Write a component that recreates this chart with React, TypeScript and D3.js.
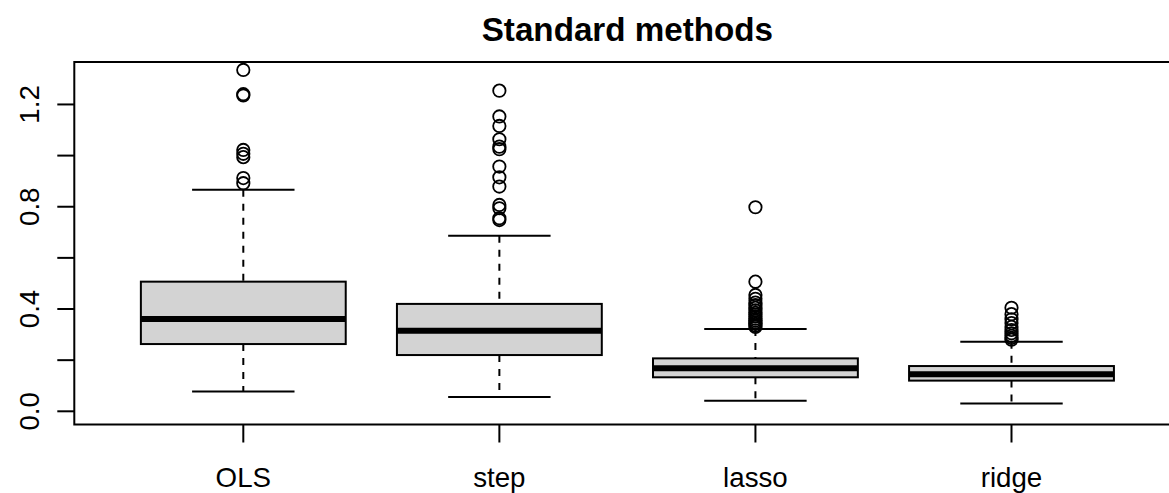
import React from 'react';
import * as d3 from 'd3';

// box statistics
const methods = ['OLS', 'step', 'lasso', 'ridge'];
const lowerWhisker = [0.077, 0.056, 0.041, 0.031];
const q1 = [0.263, 0.22, 0.133, 0.12];
const medians = [0.361, 0.315, 0.168, 0.145];
const q3 = [0.507, 0.42, 0.207, 0.177];
const upperWhisker = [0.866, 0.687, 0.322, 0.272];

const olsOutliers = [1.335, 1.24, 1.235, 1.022, 1.007, 0.994, 0.912, 0.892];
const stepOutliers = [1.254, 1.153, 1.116, 1.064, 1.035, 1.025, 0.957, 0.915, 0.879, 0.807, 0.794, 0.755, 0.748];
const lassoOutliers = [0.798, 0.507, 0.455, 0.44, 0.425, 0.415, 0.405, 0.395, 0.385, 0.378, 0.37, 0.362, 0.355, 0.348, 0.342, 0.336, 0.33];
const ridgeOutliers = [0.405, 0.38, 0.36, 0.345, 0.33, 0.318, 0.305, 0.295, 0.287, 0.28];
const outliers = [olsOutliers, stepOutliers, lassoOutliers, ridgeOutliers];

const yTicks = [0, 0.2, 0.4, 0.6, 0.8, 1.0, 1.2];
const yTickLabels = ['0.0', '', '0.4', '', '0.8', '', '1.2'];

const W = 1169;
const H = 493;
const left = 74.3;
const right = 1180.5;
const top = 62;
const bottom = 424.5;
const font = '"Liberation Sans", Arial, Helvetica, sans-serif';

const App: React.FC = () => {
  const x = d3.scaleLinear().domain([0.34, methods.length + 0.66]).range([left, right]);
  const y = d3.scaleLinear().domain([-0.0516, 1.366]).range([bottom, top]);
  const halfBox = x(0.4) - x(0);
  const halfCap = x(0.2) - x(0);

  return (
    <svg width={W} height={H} style={{ position: 'absolute', left: 0, top: 0, background: '#fff' }}>
      <text x={(left + right) / 2} y={41} textAnchor="middle" fontFamily={font} fontWeight="bold" fontSize={33.2}>
        Standard methods
      </text>

      {methods.map((m, i) => {
        const cx = x(i + 1);
        return (
          <g key={m}>
            <line x1={cx} x2={cx} y1={y(upperWhisker[i])} y2={y(q3[i])} stroke="#000" strokeWidth={2} strokeDasharray="7,7" />
            <line x1={cx} x2={cx} y1={y(q1[i])} y2={y(lowerWhisker[i])} stroke="#000" strokeWidth={2} strokeDasharray="7,7" />
            <line x1={cx - halfCap} x2={cx + halfCap} y1={y(upperWhisker[i])} y2={y(upperWhisker[i])} stroke="#000" strokeWidth={2} />
            <line x1={cx - halfCap} x2={cx + halfCap} y1={y(lowerWhisker[i])} y2={y(lowerWhisker[i])} stroke="#000" strokeWidth={2} />
            <rect x={cx - halfBox} y={y(q3[i])} width={halfBox * 2} height={y(q1[i]) - y(q3[i])} fill="#d3d3d3" stroke="#000" strokeWidth={2} />
            <line x1={cx - halfBox} x2={cx + halfBox} y1={y(medians[i])} y2={y(medians[i])} stroke="#000" strokeWidth={6} />
            {outliers[i].map((v, j) => (
              <circle key={j} cx={cx} cy={y(v)} r={6.2} fill="none" stroke="#000" strokeWidth={1.8} />
            ))}
            <line x1={cx} x2={cx} y1={bottom} y2={bottom + 18} stroke="#000" strokeWidth={2} />
            <text x={cx} y={486.7} textAnchor="middle" fontFamily={font} fontSize={27.7}>
              {m}
            </text>
          </g>
        );
      })}

      {yTicks.map((t, i) => (
        <g key={t}>
          <line x1={left - 17} x2={left} y1={y(t)} y2={y(t)} stroke="#000" strokeWidth={2} />
          {yTickLabels[i] && (
            <text transform={`translate(39,${y(t)}) rotate(-90)`} textAnchor="middle" fontFamily={font} fontSize={27.7}>
              {yTickLabels[i]}
            </text>
          )}
        </g>
      ))}

      <rect x={left} y={top} width={right - left} height={bottom - top} fill="none" stroke="#000" strokeWidth={2} />
    </svg>
  );
};

export default App;
